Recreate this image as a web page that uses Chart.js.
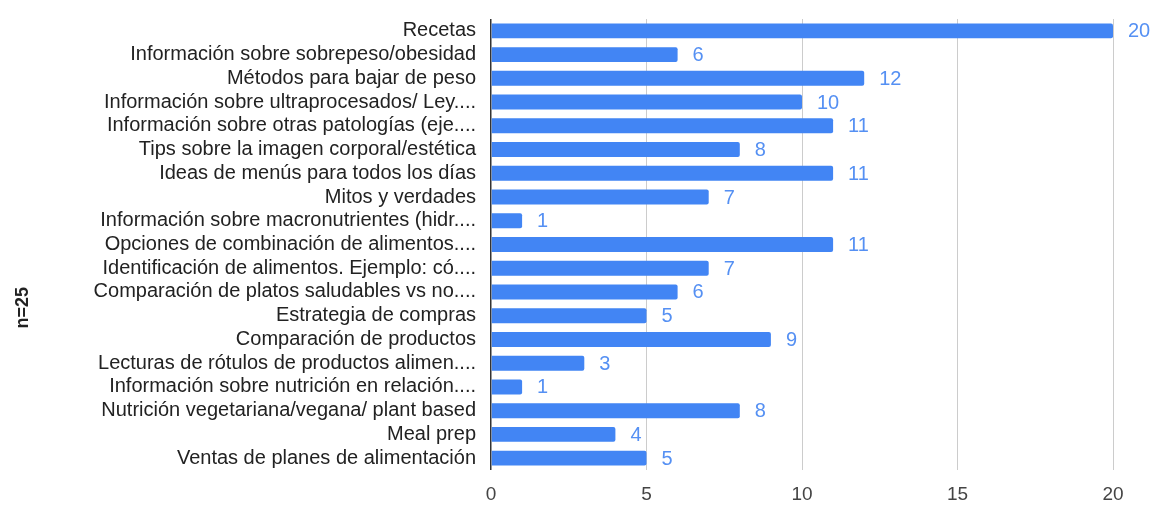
<!DOCTYPE html>
<html lang="es">
<head>
  <meta charset="UTF-8">
  <title>Temas de interés</title>
  <script src="https://cdn.jsdelivr.net/npm/chart.js"></script>
  <style>
    html, body { margin: 0; padding: 0; background: #fff; }
    #wrap { width: 1165px; height: 505px; }
  </style>
</head>
<body>
  <div id="wrap"><canvas id="temasChart"></canvas></div>

  <script>
    // Temas y cantidad de respuestas
    const temas = [
      'Recetas',
      'Información sobre sobrepeso/obesidad',
      'Métodos para bajar de peso',
      'Información sobre ultraprocesados/ Ley....',
      'Información sobre otras patologías (eje....',
      'Tips sobre la imagen corporal/estética',
      'Ideas de menús para todos los días',
      'Mitos y verdades',
      'Información sobre macronutrientes (hidr....',
      'Opciones de combinación de alimentos....',
      'Identificación de alimentos. Ejemplo: có....',
      'Comparación de platos saludables vs no....',
      'Estrategia de compras',
      'Comparación de productos',
      'Lecturas de rótulos de productos alimen....',
      'Información sobre nutrición en relación....',
      'Nutrición vegetariana/vegana/ plant based',
      'Meal prep',
      'Ventas de planes de alimentación'
    ];
    const respuestas = [20, 6, 12, 10, 11, 8, 11, 7, 1, 11, 7, 6, 5, 9, 3, 1, 8, 4, 5];
    const ticksX = [0, 5, 10, 15, 20];
    const tituloY = 'n=25';

    const azul = '#4285f4';

    // Valor de cada barra escrito a su derecha
    const etiquetasValor = {
      id: 'etiquetasValor',
      afterDatasetsDraw(chart) {
        const ctx = chart.ctx;
        const meta = chart.getDatasetMeta(0);
        ctx.save();
        ctx.font = '20px "Liberation Sans", Arial, sans-serif';
        ctx.fillStyle = '#5590f3';
        ctx.textAlign = 'left';
        ctx.textBaseline = 'middle';
        meta.data.forEach((bar, i) => {
          ctx.fillText(String(respuestas[i]), bar.x + 15, bar.y + 1);
        });
        ctx.restore();
      }
    };

    // Título vertical del eje de categorías
    const tituloEje = {
      id: 'tituloEje',
      afterDraw(chart) {
        const ctx = chart.ctx;
        const area = chart.chartArea;
        ctx.save();
        ctx.translate(23, area.top + (area.bottom - area.top) * 0.64);
        ctx.rotate(-Math.PI / 2);
        ctx.font = 'bold 18px "Liberation Sans", Arial, sans-serif';
        ctx.fillStyle = '#222';
        ctx.textAlign = 'center';
        ctx.textBaseline = 'middle';
        ctx.fillText(tituloY, 0, 0);
        ctx.restore();
      }
    };

    const ctx = document.getElementById('temasChart').getContext('2d');
    new Chart(ctx, {
      type: 'bar',
      data: {
        labels: temas,
        datasets: [{
          data: respuestas,
          backgroundColor: azul,
          borderRadius: 2,
          barPercentage: 0.63,
          categoryPercentage: 1
        }]
      },
      options: {
        indexAxis: 'y',
        responsive: true,
        maintainAspectRatio: false,
        animation: false,
        layout: { padding: { top: 16, right: 52, bottom: 0, left: 0 } },
        plugins: {
          legend: { display: false },
          tooltip: { enabled: false }
        },
        scales: {
          x: {
            min: 0,
            max: 20,
            afterBuildTicks(scale) {
              scale.ticks = ticksX.map(v => ({ value: v }));
            },
            afterFit(scale) { scale.height = 35; },
            grid: {
              color: c => (c.tick && c.tick.value === 0 ? '#333' : '#ccc'),
              lineWidth: c => (c.tick && c.tick.value === 0 ? 1.5 : 1),
              drawTicks: false
            },
            border: { display: false },
            ticks: {
              color: '#444',
              padding: 13,
              font: { family: '"Liberation Sans", Arial, sans-serif', size: 19 }
            }
          },
          y: {
            afterFit(scale) { scale.width = 491; },
            grid: { display: false },
            border: { display: false },
            ticks: {
              color: '#222',
              padding: 7,
              autoSkip: false,
              font: { family: '"Liberation Sans", Arial, sans-serif', size: 20 }
            }
          }
        }
      },
      plugins: [etiquetasValor, tituloEje]
    });
  </script>
</body>
</html>
